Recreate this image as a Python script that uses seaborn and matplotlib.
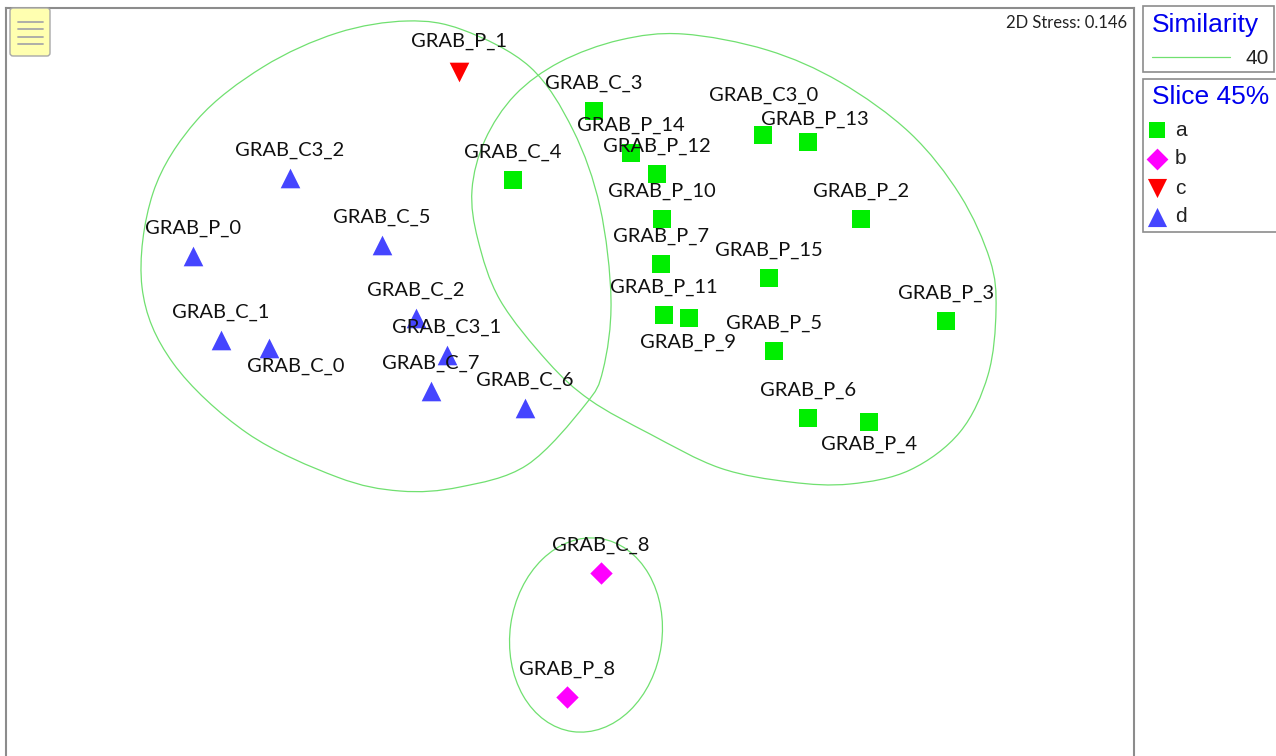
import matplotlib
matplotlib.use("Agg")
import matplotlib.pyplot as plt
import numpy as np
import pandas as pd
import seaborn as sns
from matplotlib.path import Path
from matplotlib.patches import PathPatch, Rectangle, FancyBboxPatch, Ellipse

sns.set_theme(style="white")
plt.rcParams["font.family"] = ["Lato", "DejaVu Sans"]

# nMDS ordination
samples = ["GRAB_C_3", "GRAB_C3_0", "GRAB_P_13", "GRAB_P_14", "GRAB_P_12", "GRAB_C_4",
           "GRAB_P_10", "GRAB_P_2", "GRAB_P_7", "GRAB_P_15", "GRAB_P_11", "GRAB_P_9",
           "GRAB_P_3", "GRAB_P_5", "GRAB_P_6", "GRAB_P_4",
           "GRAB_C_8", "GRAB_P_8",
           "GRAB_P_1",
           "GRAB_C3_2", "GRAB_C_5", "GRAB_P_0", "GRAB_C_2", "GRAB_C_1", "GRAB_C_0",
           "GRAB_C3_1", "GRAB_C_7", "GRAB_C_6"]
mds1 = [0.24, 1.93, 2.38, 0.61, 0.87, -0.57, 0.92, 2.91, 0.91, 1.99, 0.94, 1.19,
        3.76, 2.04, 2.38, 2.99,
        0.31, -0.03,
        -1.11,
        -2.80, -1.88, -3.77, -1.54, -3.49, -3.01, -1.23, -1.39, -0.45]
mds2 = [2.89, 2.65, 2.58, 2.47, 2.26, 2.20, 1.81, 1.81, 1.36, 1.22, 0.85, 0.82,
        0.79, 0.49, -0.18, -0.22,
        -1.73, -2.97,
        3.28,
        2.22, 1.55, 1.44, 0.82, 0.60, 0.52, 0.45, 0.09, -0.08]
groups = ["a"] * 16 + ["b"] * 2 + ["c"] + ["d"] * 9

# similarity 40 contours (outline points)
contour_left = [(-1.63, 3.79), (-1.07, 3.70), (-0.40, 3.33), (0.03, 2.70), (0.30, 1.93),
                (0.41, 1.00), (0.33, 0.30), (0.15, -0.05), (-0.43, -0.65), (-1.10, -0.87),
                (-1.70, -0.91), (-2.33, -0.77), (-3.23, -0.33), (-3.97, 0.37), (-4.28, 1.13),
                (-4.17, 2.07), (-3.73, 2.80), (-3.07, 3.33), (-2.33, 3.67)]
contour_right = [(1.13, 3.66), (1.97, 3.50), (2.70, 3.18), (3.40, 2.67), (3.90, 2.05),
                 (4.20, 1.40), (4.26, 0.90), (4.18, 0.25), (3.90, -0.32), (3.40, -0.70),
                 (2.80, -0.84), (2.20, -0.82), (1.50, -0.68), (0.80, -0.34), (0.20, 0.00),
                 (-0.22, 0.38), (-0.70, 1.00), (-0.92, 1.60), (-0.98, 2.10), (-0.85, 2.60),
                 (-0.55, 3.05), (-0.10, 3.38), (0.50, 3.60)]
# bottom group contour as an ellipse: centre, width, height, tilt
bottom_centre = (0.16, -2.35)
bottom_w, bottom_h, bottom_tilt = 1.52, 1.95, -8

group_names = ["a", "b", "c", "d"]
palette = {"a": "#00ee00", "b": "#ff00ff", "c": "#ff0000", "d": "#4545ff"}
markers = {"a": "s", "b": "D", "c": "v", "d": "^"}
msizes = {"a": 150, "b": 130, "c": 200, "d": 200}

# label offsets in pixels (default: centred above the marker)
label_shift = {"GRAB_C3_0": (1, -40), "GRAB_P_13": (7, -23), "GRAB_C_0": (27, 18),
               "GRAB_P_9": (-1, 24), "GRAB_P_4": (0, 22), "GRAB_P_1": (0, -31)}

df = pd.DataFrame({"sample": samples, "MDS1": mds1, "MDS2": mds2, "group": groups})

W, H = 1276, 756
fig = plt.figure(figsize=(W / 100, H / 100), dpi=100)
ax = fig.add_axes([6 / W, 0, 1128 / W, 748 / H])

for g in group_names:
    sns.scatterplot(data=df[df["group"] == g], x="MDS1", y="MDS2", marker=markers[g],
                    color=palette[g], s=msizes[g], linewidth=0, ax=ax, legend=False, zorder=3)


def closed_curve(pts):
    # smooth closed outline: catmull-rom through the points as cubic beziers
    p = np.array(pts)
    n = len(p)
    verts = [p[0]]
    codes = [Path.MOVETO]
    for i in range(n):
        p0, p1, p2, p3 = p[i - 1], p[i], p[(i + 1) % n], p[(i + 2) % n]
        verts += [p1 + (p2 - p0) / 6, p2 - (p3 - p1) / 6, p2]
        codes += [Path.CURVE4] * 3
    return Path(verts, codes)


contour_color = "#70e070"
for c in [contour_left, contour_right]:
    ax.add_patch(PathPatch(closed_curve(c), facecolor="none", edgecolor=contour_color,
                           lw=0.9, zorder=2))
ax.add_patch(Ellipse(bottom_centre, bottom_w, bottom_h, angle=bottom_tilt, facecolor="none",
                     edgecolor=contour_color, lw=0.9, zorder=2))

for name, x, y in zip(samples, mds1, mds2):
    dx, dy = label_shift.get(name, (0, -28))
    ax.annotate(name, (x, y), xytext=(dx * 0.72, -dy * 0.72), textcoords="offset points",
                ha="center", va="center", fontsize=14.5, color="#111111", zorder=4)

ax.set_xlim(-5.64, 5.64)
ax.set_ylim(-3.56, 3.92)
ax.set_xlabel("")
ax.set_ylabel("")
ax.set_xticks([])
ax.set_yticks([])
for side in ["left", "top", "right"]:
    ax.spines[side].set_color("#8c8c8c")
    ax.spines[side].set_linewidth(1.5)
ax.spines["bottom"].set_visible(False)

# overlay in pixel units for the decorations around the plot
ov = fig.add_axes([0, 0, 1, 1], facecolor="none")
ov.set_xlim(0, W)
ov.set_ylim(H, 0)
ov.axis("off")

ov.add_patch(FancyBboxPatch((10, 8), 40, 48, boxstyle="round,pad=0,rounding_size=3",
                            facecolor="#ffffb0", edgecolor="#a8a8a8", lw=1))
for yy in [22, 29, 37, 44]:
    ov.plot([18, 43], [yy, yy], color="#a8a8a8", lw=1.3)

ov.text(1127, 23, "2D Stress: 0.146", ha="right", va="center", fontsize=12, color="#222222")

arial = ["Liberation Sans", "DejaVu Sans"]
ov.add_patch(Rectangle((1143, 6), 131, 66, facecolor="white", edgecolor="#8c8c8c", lw=1.2))
ov.text(1152, 25, "Similarity", ha="left", va="center", fontsize=19, color="#0000ee", family=arial)
ov.plot([1152, 1230], [57, 57], color=contour_color, lw=0.9)
ov.text(1269, 58, "40", ha="right", va="center", fontsize=15, color="#222222", family=arial)

ov.add_patch(Rectangle((1143, 79), 135, 153, facecolor="white", edgecolor="#8c8c8c", lw=1.2))
ov.text(1152, 97, "Slice 45%", ha="left", va="center", fontsize=19, color="#0000ee", family=arial)
for i, g in enumerate(group_names):
    yy = 130 + i * 29
    ov.scatter([1157], [yy], marker=markers[g], color=palette[g], s=msizes[g] * 0.95, linewidth=0)
    ov.text(1175, yy, g, ha="left", va="center", fontsize=15, color="#222222", family=arial)

fig.savefig("out.png", dpi=100)
